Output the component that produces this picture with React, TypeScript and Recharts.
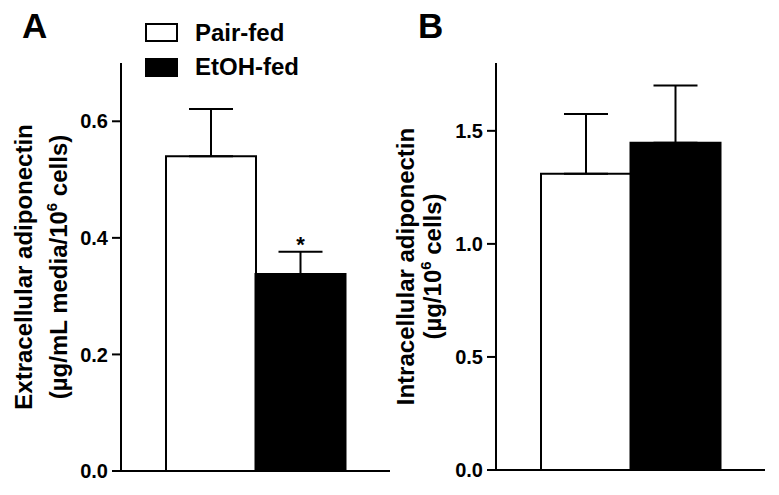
import React from 'react';
import { BarChart, Bar, XAxis, YAxis, ErrorBar, Cell, LabelList, Customized } from 'recharts';

const FONT = 'Arial, "Liberation Sans", Helvetica, sans-serif';

// ---- data ----
const categories = ['Pair-fed', 'EtOH-fed'];
const seriesColors = ['#ffffff', '#000000'];

const extracellularMean = [0.54, 0.338];
const extracellularSem = [0.081, 0.038];
const extracellularSig = ['', '*'];
const extracellularTicks = [0, 0.2, 0.4, 0.6];
const extracellularMax = 0.7;

const intracellularMean = [1.31, 1.447];
const intracellularSem = [0.265, 0.253];
const intracellularSig = ['', ''];
const intracellularTicks = [0, 0.5, 1.0, 1.5];
const intracellularMax = 1.8;

type Row = { name: string; value: number; err: [number, number]; sem: number; sig: string };

const buildRows = (means: number[], sems: number[], sig: string[]): Row[] =>
  categories.map((name, i) => ({ name, value: means[i], err: [0, sems[i]], sem: sems[i], sig: sig[i] }));

const extracellularRows = buildRows(extracellularMean, extracellularSem, extracellularSig);
const intracellularRows = buildRows(intracellularMean, intracellularSem, intracellularSig);

const YLabel = (props: any) => {
  const { viewBox, line1, line2a, sup, line2b, x1, x2 } = props;
  const vb = viewBox || { x: 0, y: 63, width: 100, height: 408 };
  const cy = vb.y + vb.height / 2;
  return (
    <g fontFamily={FONT} fontWeight="bold" fontSize={24} fill="#000">
      <text x={x1} y={cy} textAnchor="middle" transform={`rotate(-90, ${x1}, ${cy})`}>
        {line1}
      </text>
      <text x={x2} y={cy} textAnchor="middle" transform={`rotate(-90, ${x2}, ${cy})`}>
        <tspan>{line2a}</tspan>
        <tspan dy={-10} fontSize={15}>{sup}</tspan>
        <tspan dy={10}>{line2b}</tspan>
      </text>
    </g>
  );
};

const SigLabel = (props: any) => {
  const { x, y, width, height, value, index, means, sems } = props;
  if (!value) return null;
  const errPx = (sems[index] * Math.abs(height)) / means[index];
  return (
    <text
      x={x + width / 2}
      y={y - errPx}
      textAnchor="middle"
      fontFamily={FONT}
      fontWeight="bold"
      fontSize={22}
      fill="#000"
    >
      {value}
    </text>
  );
};

const PanelLetter = ({ letter, x }: { letter: string; x: number }) => (
  <text x={x} y={38} fontFamily={FONT} fontWeight="bold" fontSize={35} fill="#000">
    {letter}
  </text>
);

const LegendBlock = () => (
  <g fontFamily={FONT} fontWeight="bold" fontSize={24} fill="#000">
    {categories.map((c, i) => (
      <g key={c}>
        <rect x={146} y={24 + i * 35} width={31} height={17} fill={seriesColors[i]} stroke="#000" strokeWidth={2} />
        <text x={195} y={41 + i * 34}>{c}</text>
      </g>
    ))}
  </g>
);

type PanelProps = {
  width: number;
  rows: Row[];
  means: number[];
  sems: number[];
  ticks: number[];
  max: number;
  yWidth: number;
  rightMargin: number;
  xHeight: number;
  letter: string;
  letterX: number;
  labelLines: { line1: string; line2a: string; sup: string; line2b: string; x1: number; x2: number };
  legend?: boolean;
};

const Panel = (p: PanelProps) => (
  <BarChart
    width={p.width}
    height={495}
    data={p.rows}
    margin={{ top: 63, right: p.rightMargin, bottom: 0, left: 0 }}
    barCategoryGap={0}
    barGap={0}
  >
    <XAxis
      dataKey="name"
      type="category"
      padding={{ left: 45, right: 45 }}
      height={p.xHeight}
      axisLine={{ stroke: '#000', strokeWidth: 2 }}
      tickLine={{ stroke: '#000', strokeWidth: 2 }}
      tickSize={9}
      tick={false}
    />
    <YAxis
      type="number"
      domain={[0, p.max]}
      ticks={p.ticks}
      interval={0}
      width={p.yWidth}
      tickSize={9}
      tickMargin={4}
      axisLine={{ stroke: '#000', strokeWidth: 2 }}
      tickLine={{ stroke: '#000', strokeWidth: 2 }}
      tickFormatter={(v: number) => v.toFixed(1)}
      tick={{ fill: '#000', fontSize: 20, fontWeight: 'bold', fontFamily: FONT }}
      label={<YLabel {...p.labelLines} />}
    />
    <Bar dataKey="value" stroke="#000" strokeWidth={2} isAnimationActive={false}>
      {p.rows.map((r, i) => (
        <Cell key={r.name} fill={seriesColors[i]} />
      ))}
      <ErrorBar dataKey="err" direction="y" width={22} stroke="#000" strokeWidth={2} isAnimationActive={false} />
      <LabelList dataKey="sig" content={<SigLabel means={p.means} sems={p.sems} />} />
    </Bar>
    <Customized component={<PanelLetter letter={p.letter} x={p.letterX} />} />
    {p.legend ? <Customized component={<LegendBlock />} /> : null}
  </BarChart>
);

export default function App() {
  return (
    <div style={{ position: 'absolute', left: 0, top: 0, width: 779, height: 495, background: '#fff' }}>
      <div style={{ position: 'absolute', left: 0, top: 0 }}>
        <Panel
          width={390}
          rows={extracellularRows}
          means={extracellularMean}
          sems={extracellularSem}
          ticks={extracellularTicks}
          max={extracellularMax}
          yWidth={121}
          rightMargin={0}
          xHeight={24}
          letter="A"
          letterX={22}
          labelLines={{
            line1: 'Extracellular adiponectin',
            line2a: '(µg/mL media/10',
            sup: '6',
            line2b: ' cells)',
            x1: 32,
            x2: 67,
          }}
          legend
        />
      </div>
      <div style={{ position: 'absolute', left: 390, top: 0 }}>
        <Panel
          width={389}
          rows={intracellularRows}
          means={intracellularMean}
          sems={intracellularSem}
          ticks={intracellularTicks}
          max={intracellularMax}
          yWidth={106}
          rightMargin={14}
          xHeight={25}
          letter="B"
          letterX={28}
          labelLines={{
            line1: 'Intracellular adiponectin',
            line2a: '(µg/10',
            sup: '6',
            line2b: ' cells)',
            x1: 24,
            x2: 51,
          }}
        />
      </div>
    </div>
  );
}
